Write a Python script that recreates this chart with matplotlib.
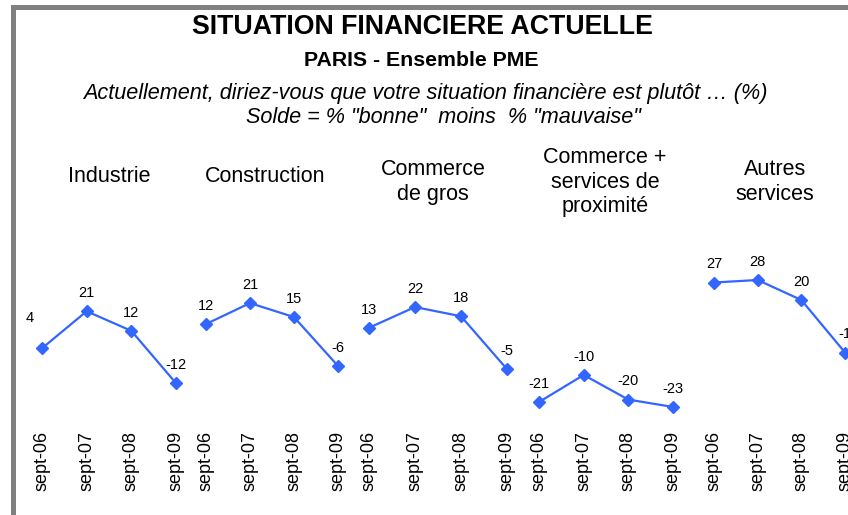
import matplotlib
matplotlib.use("Agg")
import matplotlib.pyplot as plt
from matplotlib.patches import Rectangle

plt.rcParams['font.family'] = ['Liberation Sans', 'DejaVu Sans']

periods = ["sept-06", "sept-07", "sept-08", "sept-09"]
sectors = ["Industrie", "Construction", "Commerce\nde gros",
           "Commerce +\nservices de\nproximité", "Autres\nservices"]
industrie = [4, 21, 12, -12]
construction = [12, 21, 15, -6]
commerce_gros = [13, 22, 18, -5]
commerce_proximite = [-21, -10, -20, -23]
autres_services = [27, 28, 20, -1]
series = [industrie, construction, commerce_gros, commerce_proximite, autres_services]

W, H = 848, 515
fig = plt.figure(figsize=(W / 100, H / 100), dpi=100)

# layout (pixels): first/last point x, and y-limits per panel
px = [(42, 176), (206, 338), (369, 507), (539, 673), (714, 845)]
title_x = [109, 265, 433, 605, 775]
ylims = [(-28.9, 49.1), (-29.2, 43.8), (-27.1, 46.8), (-28.3, 40.8), (-28.0, 40.0)]
ax_top, ax_bot = 250, 420
color = "#3366FF"

for i, (vals, (x0, x3), yl) in enumerate(zip(series, px, ylims)):
    s = (x3 - x0) / 3.0
    left = x0 - 0.5 * s
    ax = fig.add_axes([left / W, 1 - ax_bot / H, 4 * s / W, (ax_bot - ax_top) / H])
    ax.patch.set_alpha(0)
    x = list(range(len(vals)))
    ax.plot(x, vals, color=color, lw=1.6, marker="D", ms=6.5, clip_on=False)
    ax.set_xlim(-0.5, 3.5)
    ax.set_ylim(*yl)
    for xi, v in zip(x, vals):
        dx = -9 if (i == 0 and xi == 0) else 0
        dy = 17 if (i == 0 and xi == 0) else 8
        ax.annotate(str(v), (xi, v), xytext=(dx, dy), textcoords="offset points",
                    ha="center", va="bottom", fontsize=10.5, color="black",
                    annotation_clip=False)
    for sp in ax.spines.values():
        sp.set_visible(False)
    ax.set_yticks([])
    ax.set_xticks(x)
    ax.set_xticklabels(periods, rotation=90, fontsize=13)
    ax.tick_params(axis="x", length=0, pad=8)
    ty = 182 if "\n" in sectors[i] else 177
    fig.text(title_x[i] / W, 1 - ty / H, sectors[i], ha="center", va="center",
             fontsize=15.5, linespacing=1.2)

fig.text(422 / W, 1 - 27 / H, "SITUATION FINANCIERE ACTUELLE",
         ha="center", va="center", fontsize=19.3, fontweight="bold")
fig.text(421 / W, 1 - 61 / H, "PARIS - Ensemble PME", ha="center", va="center",
         fontsize=15.3, fontweight="bold")
fig.text(425 / W, 1 - 94 / H,
         "Actuellement, diriez-vous que votre situation financière est plutôt … (%)",
         ha="center", va="center", fontsize=15.6, style="italic")
fig.text(443 / W, 1 - 118 / H, 'Solde = % "bonne"  moins  % "mauvaise"',
         ha="center", va="center", fontsize=15.6, style="italic")

# frame (gray border on top and left, cropped right/bottom)
fig.patches.append(Rectangle((12.5 / W, -0.1), 1.2, 1 - 7 / H + 0.1, transform=fig.transFigure,
                             fill=False, edgecolor="#808080", lw=3.6))

fig.savefig("out.png", dpi=100)
